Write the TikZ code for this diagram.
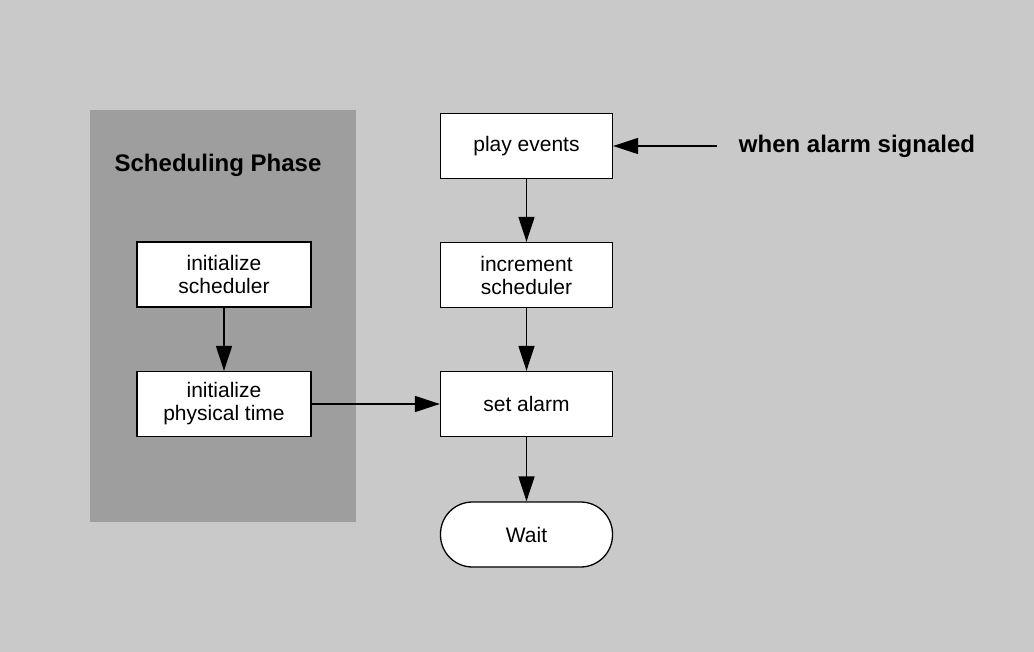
\documentclass[tikz,border=0pt]{standalone}
\usepackage{fontspec}
\setmainfont{Liberation Sans}
\usetikzlibrary{arrows.meta}
\begin{document}
\begin{tikzpicture}[x=1pt,y=-1pt,
    box/.style={draw,fill=white,line width=1.3pt,minimum width=172pt,minimum height=65pt,
      align=center,inner sep=0pt,font=\fontsize{21}{23}\selectfont},
    lbl/.style={font=\bfseries\fontsize{24}{26}\selectfont},
    arr/.style={-{Triangle[length=25pt,width=16pt]},line width=1.5pt}]
  \useasboundingbox (0,0) rectangle (1034,652);
  \fill[black!21] (0,0) rectangle (1034,652);
  %% scheduling phase
  \fill[black!38] (90,110) rectangle (356,522);
  \node[lbl] (ph) at (218,165) {Scheduling Phase};

  \node[box,minimum width=174pt] (a1) at (224,274.5) {initialize\\scheduler};
  \node[box,minimum width=174pt] (a2) at (224,404) {initialize\\physical time};

  \draw[arr] (a1) to (a2);

  %% main loop
  \node[box] (b1) at (526.5,146) {play events};
  \node[box] (b2) at (526.5,275) {increment\\scheduler};
  \node[box] (b3) at (526.5,404) {set alarm};
  \node[box,rounded corners=32pt] (b4) at (526.5,534.5) {Wait};

  \node[lbl,inner xsep=22pt] (al) at (857,146) {when alarm signaled};

  \draw[arr] (al) to (b1);
  \draw[arr] (b1) to (b2);
  \draw[arr] (b2) to (b3);
  \draw[arr] (b3) to (b4);
  \draw[arr] (a2) to (b3);
\end{tikzpicture}
\end{document}
